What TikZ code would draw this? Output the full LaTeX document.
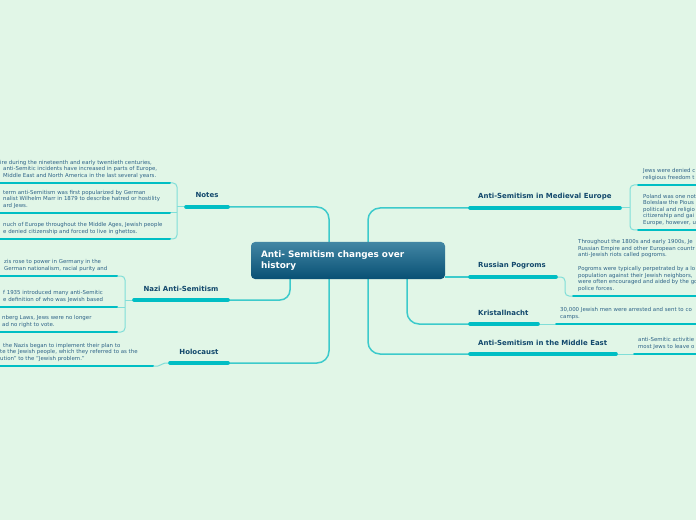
\documentclass[tikz,border=0pt]{standalone}
\usepackage{fontspec}
\setmainfont{DejaVu Sans}
\usetikzlibrary{backgrounds}
\definecolor{bgc}{RGB}{225,246,231}
\definecolor{ulc}{RGB}{0,190,196}
\definecolor{connc}{RGB}{60,202,203}
\definecolor{subc}{RGB}{128,222,216}
\definecolor{lblc}{RGB}{18,72,108}
\definecolor{notec}{RGB}{45,98,135}
\definecolor{boxtop}{RGB}{66,134,164}
\definecolor{boxbot}{RGB}{8,80,116}
\begin{document}
\begin{tikzpicture}[x=1bp,y=-1bp,
  topic/.style={font=\fontsize{7}{8}\selectfont\bfseries, text=lblc, inner sep=0pt},
  note/.style={font=\fontsize{5.45}{6.5}\selectfont, text=notec, inner sep=0pt, align=left, anchor=south west},
  bigline/.style={line width=3.6bp, line cap=round, draw=ulc},
  smallline/.style={line width=2bp, line cap=round, draw=ulc},
  mainconn/.style={line width=1.5bp, draw=connc, rounded corners=12bp},
  subconn/.style={line width=1bp, draw=subc, rounded corners=4bp},
  rootbox/.style={rounded corners=4bp, top color=boxtop, bottom color=boxbot, draw=none,
    text=white, font=\fontsize{8.9}{11}\selectfont\bfseries, align=left,
    text width=174bp, inner xsep=10bp, inner ysep=0pt, minimum height=37bp}
]
\useasboundingbox (0,0) rectangle (696,520);
\clip (0,0) rectangle (696,520);

% root
\node[rootbox] (root) at (348,260.5) {Anti- Semitism changes over\\history};

% topic labels
\node[topic, anchor=base] (notes) at (207,198) {Notes};
\node[topic, anchor=base] (nazi) at (181,291) {Nazi Anti-Semitism};
\node[topic, anchor=base] (holo) at (199,354) {Holocaust};
\node[topic, anchor=base west] (med) at (478,199) {Anti-Semitism in Medieval Europe};
\node[topic, anchor=base west] (rus) at (478,268) {Russian Pogroms};
\node[topic, anchor=base west] (kri) at (478,315) {Kristallnacht};
\node[topic, anchor=base west] (mid) at (478,345) {Anti-Semitism in the Middle East};

% underline coordinates
\coordinate (notesW) at (186,207); \coordinate (notesE) at (228,207);
\coordinate (naziW) at (134,300);  \coordinate (naziE) at (228,300);
\coordinate (holoW) at (170,363);  \coordinate (holoE) at (228,363);
\coordinate (medW) at (470,208);   \coordinate (medE) at (620,208);
\coordinate (rusW) at (470,277);   \coordinate (rusE) at (556,277);
\coordinate (kriW) at (470,324);   \coordinate (kriE) at (538,324);
\coordinate (midW) at (470,354);   \coordinate (midE) at (616,354);

% sub underline coordinates
\coordinate (n1W) at (-5,183); \coordinate (n1E) at (170,183);
\coordinate (n2W) at (-5,213); \coordinate (n2E) at (170,213);
\coordinate (n3W) at (-5,239); \coordinate (n3E) at (170,239);
\coordinate (z1W) at (-5,276); \coordinate (z1E) at (117,276);
\coordinate (z2W) at (-5,307); \coordinate (z2E) at (117,307);
\coordinate (z3W) at (-5,332); \coordinate (z3E) at (117,332);
\coordinate (h1W) at (-5,366); \coordinate (h1E) at (153,366);
\coordinate (m1W) at (638,185); \coordinate (m1E) at (700,185);
\coordinate (m2W) at (638,230); \coordinate (m2E) at (700,230);
\coordinate (r1W) at (573,296); \coordinate (r1E) at (700,296);
\coordinate (k1W) at (556,324); \coordinate (k1E) at (700,324);
\coordinate (e1W) at (634,354); \coordinate (e1E) at (700,354);

% junctions
\coordinate (trunkL) at (329,260);
\coordinate (trunkR) at (368,260);
\coordinate (naziDrop) at (290,270);
\coordinate (kriDrop) at (407,270);
\coordinate (nb) at (177,207);
\coordinate (zb) at (125,300);
\coordinate (mb) at (630,208);
\coordinate (rb) at (565,286);

\begin{pgfonlayer}{background}
\fill[bgc] (0,0) rectangle (696,520);
% main connectors
\draw[mainconn] (trunkL) |- (notesE);
\draw[mainconn] (trunkL) |- (holoE);
\draw[mainconn, rounded corners=10bp] (naziDrop) |- (naziE);
\draw[mainconn] (trunkR) |- (medW);
\draw[mainconn] (trunkR) |- (midW);
\draw[mainconn] (root.east |- rusW) -- (rusW);
\draw[mainconn] (kriDrop) |- (kriW);
\end{pgfonlayer}

% sub connectors
\draw[subconn] (notesW) -- (nb);
\draw[subconn] (n1E) -| (nb) |- (n3E);
\draw[subconn] (n2E) -- (n2E -| nb);
\draw[subconn] (naziW) -- (zb);
\draw[subconn] (z1E) -| (zb) |- (z3E);
\draw[subconn] (z2E) -- (z2E -| zb);
\draw[subconn, rounded corners=2bp] (h1E) -- (160,366) -- (163,363) -- (holoW);
\draw[subconn] (medE) -- (mb);
\draw[subconn] (m1W) -| (mb) |- (m2W);
\draw[subconn] (rusE) -| (rb) |- (r1W);
\draw[subconn] (kriE) -- (k1W);
\draw[subconn] (midE) -- (e1W);

% underlines
\foreach \a/\b in {notesW/notesE, naziW/naziE, holoW/holoE, medW/medE, rusW/rusE, kriW/kriE, midW/midE}
  \draw[bigline] (\a) -- (\b);
\foreach \a/\b in {n1W/n1E, n2W/n2E, n3W/n3E, z1W/z1E, z2W/z2E, z3W/z3E, h1W/h1E, m1W/m1E, m2W/m2E, r1W/r1E, k1W/k1E, e1W/e1E}
  \draw[smallline] (\a) -- (\b);

% notes texts
\node[note] (n1t) at (0,178.5) {ire during the nineteenth and early twentieth centuries,\\\hspace*{3bp}anti-Semitic incidents have increased in parts of Europe,\\\hspace*{3bp}Middle East and North America in the last several years.};
\node[note] (n2t) at (3,208.5) {term anti-Semitism was first popularized by German\\nalist Wilhelm Marr in 1879 to describe hatred or hostility\\ard Jews.};
\node[note] (n3t) at (3,234.5) {nuch of Europe throughout the Middle Ages, Jewish people\\e denied citizenship and forced to live in ghettos.};
\node[note] (z1t) at (4,271.5) {zis rose to power in Germany in the\\German nationalism, racial purity and};
\node[note] (z2t) at (3,302.5) {f 1935 introduced many anti-Semitic\\e definition of who was Jewish based};
\node[note] (z3t) at (2,327.5) {nberg Laws, Jews were no longer\\ad no right to vote.};
\node[note] (h1t) at (0,361.5) {\hspace*{3bp}the Nazis began to implement their plan to\\te the Jewish people, which they referred to as the\\ution" to the "Jewish problem."};
\node[note] (m1t) at (643,180.5) {Jews were denied c\\religious freedom t};
\node[note] (m2t) at (643,225.5) {Poland was one not\\Boleslaw the Pious\\political and religio\\citizenship and gai\\Europe, however, u};
\node[note] (r1t) at (578,291.5) {Throughout the 1800s and early 1900s, Je\\Russian Empire and other European countr\\anti-Jewish riots called pogroms.\\[7.5bp]Pogroms were typically perpetrated by a lo\\population against their Jewish neighbors,\\were often encouraged and aided by the go\\police forces.};
\node[note] (k1t) at (560,319.5) {30,000 Jewish men were arrested and sent to co\\camps.};
\node[note] (e1t) at (638,349.5) {anti-Semitic activitie\\most Jews to leave o};
\end{tikzpicture}
\end{document}
